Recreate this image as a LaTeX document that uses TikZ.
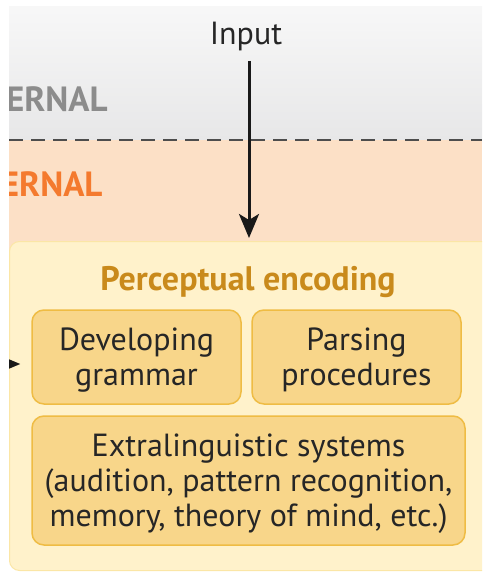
\documentclass[tikz,border=0pt]{standalone}
\usepackage{fontspec}
\setmainfont{PT Sans}
\usetikzlibrary{arrows.meta, positioning, calc}
\definecolor{bandgray}{HTML}{E7E7E8}
\definecolor{bandpeach}{HTML}{FCE0C6}
\definecolor{outeryellow}{HTML}{FFF2CB}
\definecolor{outerline}{HTML}{FBE6A6}
\definecolor{innerfill}{HTML}{F8D68A}
\definecolor{innerline}{HTML}{EFBC44}
\definecolor{titlegold}{HTML}{C98A1B}
\definecolor{intorange}{HTML}{F47A2E}
\definecolor{extgray}{HTML}{8C8C8C}
\definecolor{dashgray}{HTML}{4D4D4D}
\tikzset{
  inbox/.style={draw=innerline, line width=1.5pt, fill=innerfill, rounded corners=12pt,
    align=center, inner sep=0pt, text depth=0pt, font=\fontsize{32}{35}\selectfont, text=black!85},
  zone/.style={font=\fontsize{35}{35}\selectfont\bfseries, anchor=base east},
  arr/.style={-{Stealth[length=24pt, width=20pt, inset=6pt]}, line width=3pt, black!90},
}
\begin{document}
\begin{tikzpicture}[x=1pt, y=-1pt]
    \useasboundingbox (0,0) rectangle (482,575);
    \clip (9,7) rectangle (482,575);
    % bands
    \shade[top color=white!97!black, bottom color=bandgray] (9,7) rectangle (482,140);
    \fill[bandpeach] (9,140) rectangle (482,250);
    \draw[dashgray, line width=2.5pt, dash pattern=on 14pt off 8pt] (9,140) -- (482,140);
    \node[zone, text=extgray] (ext) at (111,112) {EXTERNAL};
    \node[zone, text=intorange] (int) at (106,196) {INTERNAL};
    % perceptual encoding
    \node[draw=outerline, line width=1pt, fill=outeryellow, rounded corners=10pt, anchor=north west,
      minimum width=520pt, minimum height=329pt] (outer) at (9,241) {};
    \node[font=\fontsize{34}{34}\selectfont\bfseries, text=titlegold, text depth=0pt] (title) at (248,278) {Perceptual encoding};
    \node[inbox, minimum width=209pt, minimum height=94pt] (dev) at (136.5,357) {Developing\\grammar};
    \node[inbox, minimum width=209pt, minimum height=94pt] (pars) at (356.5,357) {Parsing\\procedures};
    \node[inbox, minimum width=433pt, minimum height=129pt] (extra) at (248.5,480.5)
      {Extralinguistic systems\\(audition, pattern recognition,\\memory, theory of mind, etc.)};
    % arrows
    \node[font=\fontsize{32}{32}\selectfont, text=black!85] (input) at (246,37) {Input};
    \draw[arr, shorten <=6pt, shorten >=3pt] ([xshift=3pt]input.south) -- ([xshift=3pt]input.south |- outer.north);
    \coordinate (lin) at (-30,364);
    \draw[arr, shorten >=11pt] (lin) -- (lin -| dev.west);
\end{tikzpicture}
\end{document}
